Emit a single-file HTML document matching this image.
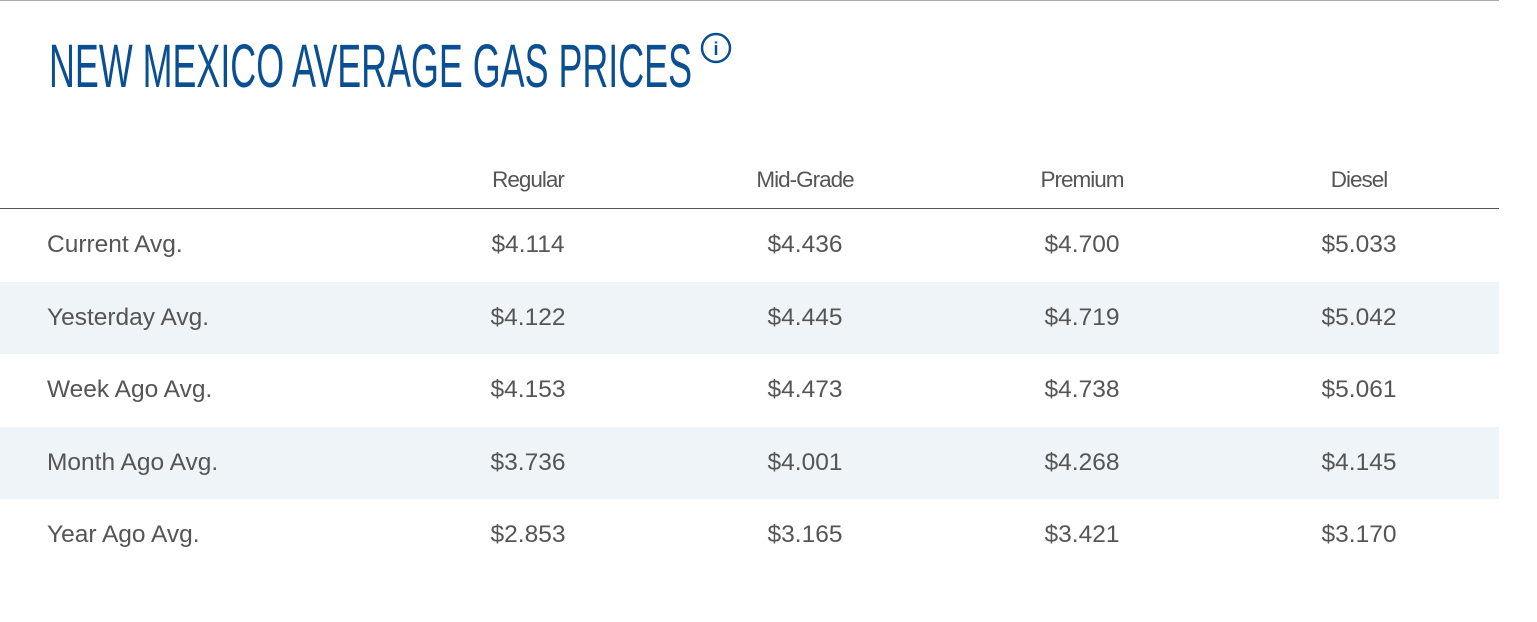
<!DOCTYPE html>
<html><head><meta charset="utf-8"><style>
body{margin:0;width:1537px;height:622px;background:#fff;position:relative;overflow:hidden;font-family:"Liberation Sans",Arial,sans-serif}
.abs{position:absolute}
.row{position:absolute;left:0;width:1499px;height:72px}
.cell{position:absolute;font-size:24.5px;color:#555;line-height:72px;top:0}
.lab{left:47px}
.num{width:200px;margin-left:-100px;text-align:center}
.hd{position:absolute;top:167px;width:200px;margin-left:-100px;text-align:center;font-size:22.5px;color:#555;letter-spacing:-1px;line-height:26px}
</style></head><body>
<div class="abs" style="left:0;top:0;width:1499px;height:1px;background:#aaa"></div>
<svg class="abs" style="left:0;top:0" width="760" height="110">
<text x="49" y="87" font-family="Liberation Sans Narrow, Liberation Sans, sans-serif" font-size="61" fill="#0b4f93" textLength="643" lengthAdjust="spacingAndGlyphs">NEW MEXICO AVERAGE GAS PRICES</text>
<g>
<circle cx="716" cy="48" r="14" fill="none" stroke="#0b4f93" stroke-width="2.5"/>
<text x="716" y="55" text-anchor="middle" font-family="Liberation Sans,sans-serif" font-weight="bold" font-size="18" fill="#0b4f93">i</text>
</g>
</svg>
<div id="hdr"></div>
<div class="abs" style="left:0;top:208px;width:1499px;height:1px;background:#555"></div>
<div id="body"></div>
<script>
const grades=["Regular","Mid-Grade","Premium","Diesel"];
const labels=["Current Avg.","Yesterday Avg.","Week Ago Avg.","Month Ago Avg.","Year Ago Avg."];
const regular=["$4.114","$4.122","$4.153","$3.736","$2.853"];
const midgrade=["$4.436","$4.445","$4.473","$4.001","$3.165"];
const premium=["$4.700","$4.719","$4.738","$4.268","$3.421"];
const diesel=["$5.033","$5.042","$5.061","$4.145","$3.170"];
const cols=[regular,midgrade,premium,diesel];
const cx=[528,805,1082,1359];
const hdr=document.getElementById('hdr');
grades.forEach((g,i)=>{const d=document.createElement('div');d.className='hd';d.style.left=cx[i]+'px';d.textContent=g;


hdr.appendChild(d);});
const body=document.getElementById('body');
labels.forEach((l,r)=>{const row=document.createElement('div');row.className='row';row.style.top=(209+r*72.5)+'px';
if(r%2==1)row.style.background='#eff4f8';


const c=document.createElement('div');c.className='cell lab';c.textContent=l;


row.appendChild(c);
cols.forEach((col,i)=>{const v=document.createElement('div');v.className='cell num';v.style.left=cx[i]+'px';v.textContent=col[r];


row.appendChild(v);});
body.appendChild(row);});
</script>
</body></html>
